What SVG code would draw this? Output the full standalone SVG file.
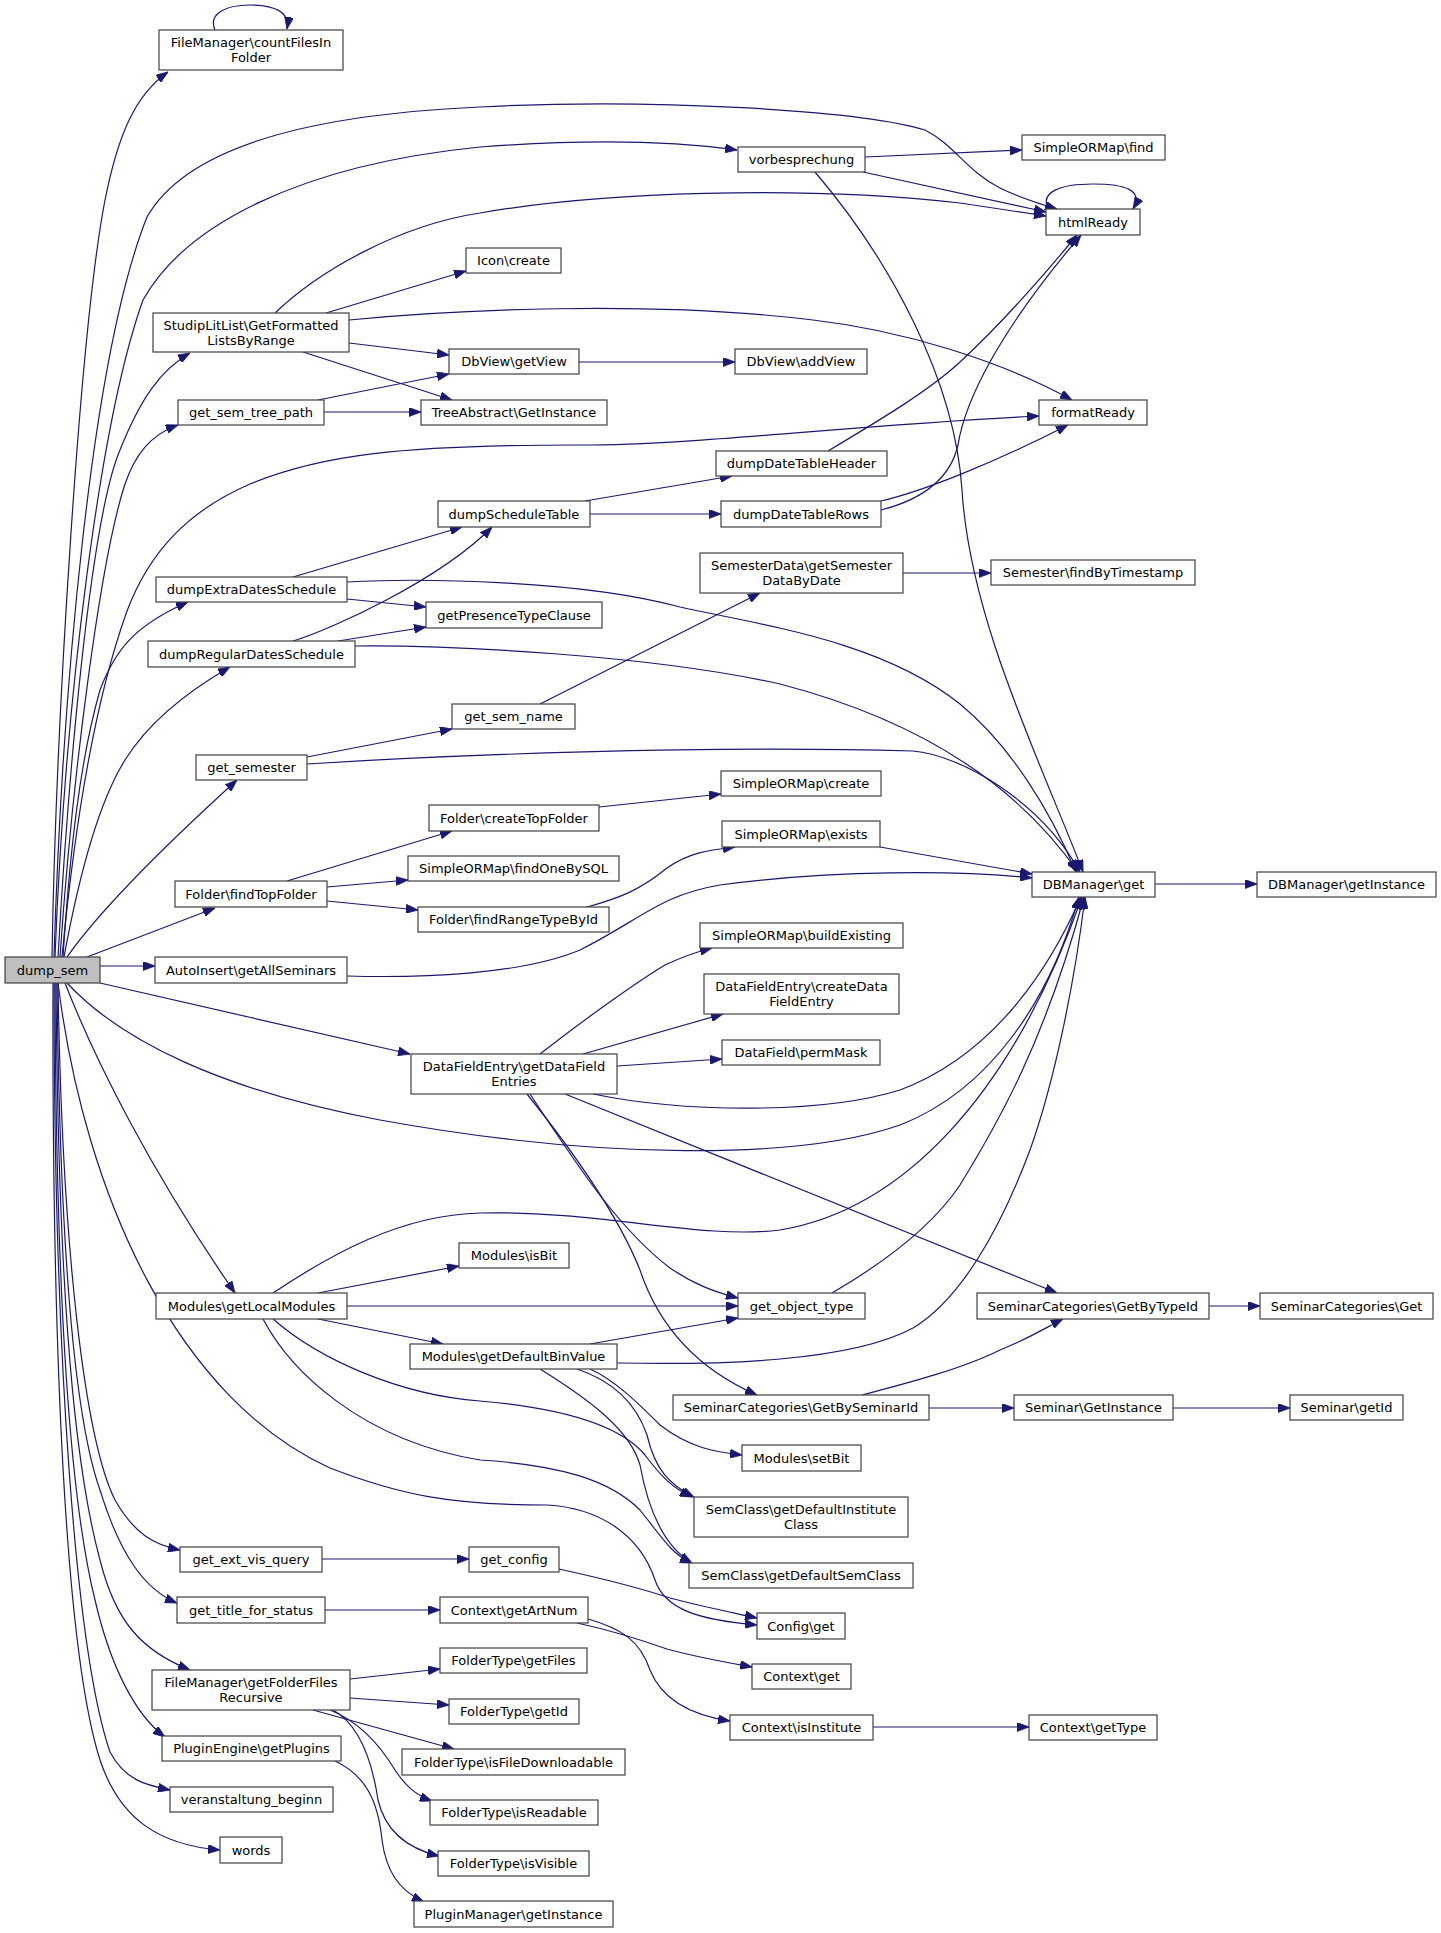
<svg xmlns="http://www.w3.org/2000/svg" width="1441" height="1933" viewBox="0 0 1441 1933">
<defs>
<marker id="a" markerWidth="12" markerHeight="9" refX="12" refY="4.5" orient="auto" markerUnits="userSpaceOnUse"><path d="M0,0 L12,4.5 L0,9 z" fill="#191970" stroke="#191970" stroke-width="0.8"/></marker>
<style>
.n rect{fill:#fff;stroke:#404040;stroke-width:1.2}
.n.root rect{fill:#bfbfbf}
text{font-family:"DejaVu Sans","Liberation Sans",sans-serif;font-size:13px;text-anchor:middle;fill:#000}
.e path{fill:none;stroke:#191970;stroke-width:1.2;marker-end:url(#a)}
</style>
</defs>
<rect width="1441" height="1933" fill="#fff"/>
<g id="edges" class="e">
<path d="M215,30 C208,14 225,5 250,5 C275,5 290,12 287,29"/>
<path d="M1048,209 C1040,192 1060,184 1093,184 C1125,184 1144,190 1133,209"/>
<path d="M52,957 C56,720 80,330 105,200 C118,135 135,95 168,72"/>
<path d="M54,957 C62,700 90,360 147,217 C185,150 300,115 480,107 C650,98 860,110 925,130 C955,145 965,170 1000,188 C1020,198 1040,204 1057,209"/>
<path d="M55,957 C65,700 100,420 143,300 C185,225 300,165 480,147 C600,138 680,142 737,150"/>
<path d="M58,957 C68,780 90,520 120,450 C140,400 160,370 190,353"/>
<path d="M60,957 C72,780 100,560 125,484 C135,455 150,435 178,425"/>
<path d="M62,957 C75,820 95,700 127,611 C150,550 190,510 250,484 C320,455 400,445 580,445 C700,445 850,425 1039,416"/>
<path d="M63,957 C70,850 80,760 100,690 C115,650 135,625 188,602"/>
<path d="M64,957 C80,870 100,800 125,760 C150,720 190,690 230,667"/>
<path d="M67,957 C100,910 160,850 237,780"/>
<path d="M87,957 L215,908"/>
<path d="M100,966 L155,966"/>
<path d="M100,983 L410,1054"/>
<path d="M67,983 C120,1040 220,1090 380,1120 C600,1160 800,1160 900,1125 C990,1090 1050,1000 1079,897"/>
<path d="M65,983 C95,1060 150,1170 235,1293"/>
<path d="M58,983 C85,1200 180,1400 330,1468 C400,1495 450,1505 547,1505 C600,1508 640,1535 655,1580 C665,1610 700,1620 757,1625"/>
<path d="M58,983 C62,1250 85,1440 115,1500 C135,1535 155,1545 180,1550"/>
<path d="M57,983 C60,1250 75,1420 100,1490 C120,1555 145,1590 177,1603"/>
<path d="M56,983 C58,1250 70,1450 100,1560 C115,1620 140,1650 190,1670"/>
<path d="M55,983 C56,1300 70,1500 95,1600 C110,1665 135,1715 165,1737"/>
<path d="M54,983 C54,1350 75,1650 110,1752 C125,1780 145,1785 170,1790"/>
<path d="M53,983 C52,1350 65,1650 100,1760 C120,1820 160,1845 220,1850"/>
<path d="M865,157 L1022,150"/>
<path d="M863,172 L1046,212"/>
<path d="M815,172 C890,260 955,380 962,490 C970,620 1040,760 1083,872"/>
<path d="M275,313 C320,270 400,225 480,213 C600,192 800,185 960,203 L1046,216"/>
<path d="M326,313 L466,271"/>
<path d="M349,320 C450,310 650,300 813,320 C900,330 1000,360 1072,400"/>
<path d="M349,343 L449,355"/>
<path d="M303,352 L452,400"/>
<path d="M318,400 L449,374"/>
<path d="M324,412 L421,412"/>
<path d="M579,362 L735,362"/>
<path d="M585,501 L732,476"/>
<path d="M590,514 L721,514"/>
<path d="M828,451 C880,420 930,390 960,362 C1000,325 1040,280 1077,235"/>
<path d="M881,510 C920,500 950,480 958,445 C965,400 1000,330 1081,235"/>
<path d="M881,501 C920,492 990,465 1068,425"/>
<path d="M903,573 L991,573"/>
<path d="M293,577 L462,527"/>
<path d="M347,599 L426,607"/>
<path d="M347,582 C420,578 580,580 680,607 C760,625 880,640 960,704 C1010,745 1050,810 1076,872"/>
<path d="M293,641 C330,630 440,580 492,527"/>
<path d="M338,641 L426,627"/>
<path d="M355,646 C450,645 650,655 780,684 C880,710 1000,760 1078,872"/>
<path d="M540,704 L760,593"/>
<path d="M307,757 L452,729"/>
<path d="M307,764 C450,755 700,745 913,751 C960,755 1040,800 1080,872"/>
<path d="M599,807 L721,794"/>
<path d="M287,881 L452,831"/>
<path d="M327,887 L408,880"/>
<path d="M327,901 L418,910"/>
<path d="M587,907 C620,898 640,890 667,868 C690,852 710,850 735,847"/>
<path d="M880,847 L1032,874"/>
<path d="M1155,884 L1257,884"/>
<path d="M347,976 C420,978 520,975 580,950 C640,920 660,895 720,885 C830,870 960,870 1032,878"/>
<path d="M540,1054 C590,1015 640,980 665,965 C680,958 700,951 712,948"/>
<path d="M583,1054 L723,1014"/>
<path d="M617,1066 L722,1059"/>
<path d="M593,1094 C680,1112 820,1115 900,1090 C980,1060 1040,990 1081,897"/>
<path d="M565,1094 L1057,1293"/>
<path d="M530,1094 C580,1170 620,1230 670,1268 C695,1285 715,1292 738,1298"/>
<path d="M527,1094 C580,1160 620,1220 640,1270 C660,1330 700,1370 757,1395"/>
<path d="M273,1293 C330,1255 400,1215 480,1213 C600,1210 700,1240 780,1230 C900,1210 1010,1100 1082,897"/>
<path d="M318,1293 L459,1266"/>
<path d="M347,1306 L738,1306"/>
<path d="M318,1319 L443,1344"/>
<path d="M273,1319 C320,1360 400,1395 480,1401 C560,1408 620,1425 645,1455 C660,1475 672,1488 692,1497"/>
<path d="M263,1319 C290,1370 360,1440 480,1460 C560,1465 610,1480 640,1510 C660,1535 672,1555 692,1563"/>
<path d="M832,1293 C880,1265 930,1230 960,1185 C1000,1120 1045,1040 1084,897"/>
<path d="M1209,1306 L1260,1306"/>
<path d="M590,1344 L738,1318"/>
<path d="M617,1363 C720,1365 850,1362 913,1328 C960,1300 1000,1230 1030,1150 C1055,1080 1075,980 1085,897"/>
<path d="M590,1369 C615,1380 640,1405 660,1425 C690,1448 715,1452 742,1455"/>
<path d="M577,1369 C610,1380 635,1400 647,1435 C655,1470 670,1485 694,1497"/>
<path d="M540,1369 C590,1400 630,1430 640,1465 C650,1520 670,1550 692,1563"/>
<path d="M862,1395 C900,1385 960,1370 1000,1350 C1030,1338 1045,1328 1063,1319"/>
<path d="M929,1408 L1014,1408"/>
<path d="M1173,1408 L1290,1408"/>
<path d="M322,1559 L469,1559"/>
<path d="M559,1569 C600,1578 640,1588 670,1598 C700,1606 730,1612 757,1618"/>
<path d="M325,1610 L440,1610"/>
<path d="M577,1623 C600,1628 630,1636 667,1649 C700,1658 730,1663 752,1667"/>
<path d="M588,1619 C620,1628 640,1640 650,1670 C662,1700 690,1715 730,1721"/>
<path d="M873,1727 L1029,1727"/>
<path d="M350,1679 L440,1669"/>
<path d="M350,1698 L449,1705"/>
<path d="M313,1710 L454,1749"/>
<path d="M330,1710 C360,1722 380,1745 395,1770 C405,1785 415,1795 432,1801"/>
<path d="M333,1710 C360,1725 372,1760 378,1800 C385,1830 405,1848 439,1856"/>
<path d="M335,1761 C365,1775 378,1800 382,1840 C386,1870 398,1890 424,1902"/>
</g>
<g id="n0" class="n root"><rect x="5" y="957" width="95" height="26"/><text x="52.5" y="974.5">dump_sem</text></g>
<g id="n1" class="n"><rect x="159" y="30" width="184" height="40"/><text x="251" y="46.5">FileManager\countFilesIn</text><text x="251" y="61.5">Folder</text></g>
<g id="n2" class="n"><rect x="1046" y="209" width="94" height="26"/><text x="1093" y="226.5">htmlReady</text></g>
<g id="n3" class="n"><rect x="738" y="147" width="127" height="25"/><text x="801.5" y="164">vorbesprechung</text></g>
<g id="n4" class="n"><rect x="1022" y="135" width="143" height="25"/><text x="1093.5" y="152">SimpleORMap\find</text></g>
<g id="n5" class="n"><rect x="153" y="313" width="196" height="39"/><text x="251" y="329.5">StudipLitList\GetFormatted</text><text x="251" y="344.5">ListsByRange</text></g>
<g id="n6" class="n"><rect x="466" y="248" width="95" height="25"/><text x="513.5" y="265">Icon\create</text></g>
<g id="n7" class="n"><rect x="449" y="349" width="130" height="25"/><text x="514" y="366">DbView\getView</text></g>
<g id="n8" class="n"><rect x="735" y="349" width="132" height="25"/><text x="801" y="366">DbView\addView</text></g>
<g id="n9" class="n"><rect x="421" y="400" width="186" height="25"/><text x="514" y="417">TreeAbstract\GetInstance</text></g>
<g id="n10" class="n"><rect x="178" y="400" width="146" height="25"/><text x="251" y="417">get_sem_tree_path</text></g>
<g id="n11" class="n"><rect x="1039" y="400" width="108" height="25"/><text x="1093" y="417">formatReady</text></g>
<g id="n12" class="n"><rect x="716" y="451" width="171" height="25"/><text x="801.5" y="468">dumpDateTableHeader</text></g>
<g id="n13" class="n"><rect x="438" y="501" width="152" height="26"/><text x="514" y="518.5">dumpScheduleTable</text></g>
<g id="n14" class="n"><rect x="721" y="501" width="160" height="26"/><text x="801" y="518.5">dumpDateTableRows</text></g>
<g id="n15" class="n"><rect x="700" y="553" width="203" height="40"/><text x="801.5" y="569.5">SemesterData\getSemester</text><text x="801.5" y="584.5">DataByDate</text></g>
<g id="n16" class="n"><rect x="991" y="560" width="204" height="25"/><text x="1093" y="577">Semester\findByTimestamp</text></g>
<g id="n17" class="n"><rect x="156" y="577" width="191" height="25"/><text x="251.5" y="594">dumpExtraDatesSchedule</text></g>
<g id="n18" class="n"><rect x="426" y="602" width="176" height="26"/><text x="514" y="619.5">getPresenceTypeClause</text></g>
<g id="n19" class="n"><rect x="148" y="641" width="207" height="26"/><text x="251.5" y="658.5">dumpRegularDatesSchedule</text></g>
<g id="n20" class="n"><rect x="452" y="704" width="123" height="25"/><text x="513.5" y="721">get_sem_name</text></g>
<g id="n21" class="n"><rect x="196" y="755" width="111" height="25"/><text x="251.5" y="772">get_semester</text></g>
<g id="n22" class="n"><rect x="721" y="771" width="160" height="25"/><text x="801" y="788">SimpleORMap\create</text></g>
<g id="n23" class="n"><rect x="429" y="805" width="170" height="26"/><text x="514" y="822.5">Folder\createTopFolder</text></g>
<g id="n24" class="n"><rect x="722" y="821" width="158" height="26"/><text x="801" y="838.5">SimpleORMap\exists</text></g>
<g id="n25" class="n"><rect x="408" y="856" width="211" height="25"/><text x="513.5" y="873">SimpleORMap\findOneBySQL</text></g>
<g id="n26" class="n"><rect x="1032" y="872" width="123" height="25"/><text x="1093.5" y="889">DBManager\get</text></g>
<g id="n27" class="n"><rect x="1257" y="872" width="179" height="25"/><text x="1346.5" y="889">DBManager\getInstance</text></g>
<g id="n28" class="n"><rect x="175" y="881" width="152" height="26"/><text x="251" y="898.5">Folder\findTopFolder</text></g>
<g id="n29" class="n"><rect x="418" y="907" width="191" height="25"/><text x="513.5" y="924">Folder\findRangeTypeById</text></g>
<g id="n30" class="n"><rect x="700" y="923" width="203" height="25"/><text x="801.5" y="940">SimpleORMap\buildExisting</text></g>
<g id="n31" class="n"><rect x="155" y="957" width="192" height="26"/><text x="251" y="974.5">AutoInsert\getAllSeminars</text></g>
<g id="n32" class="n"><rect x="704" y="974" width="195" height="40"/><text x="801.5" y="990.5">DataFieldEntry\createData</text><text x="801.5" y="1005.5">FieldEntry</text></g>
<g id="n33" class="n"><rect x="722" y="1040" width="158" height="25"/><text x="801" y="1057">DataField\permMask</text></g>
<g id="n34" class="n"><rect x="411" y="1054" width="206" height="40"/><text x="514" y="1070.5">DataFieldEntry\getDataField</text><text x="514" y="1085.5">Entries</text></g>
<g id="n35" class="n"><rect x="459" y="1243" width="110" height="25"/><text x="514" y="1260">Modules\isBit</text></g>
<g id="n36" class="n"><rect x="156" y="1293" width="191" height="26"/><text x="251.5" y="1310.5">Modules\getLocalModules</text></g>
<g id="n37" class="n"><rect x="738" y="1293" width="127" height="26"/><text x="801.5" y="1310.5">get_object_type</text></g>
<g id="n38" class="n"><rect x="977" y="1293" width="232" height="26"/><text x="1093" y="1310.5">SeminarCategories\GetByTypeId</text></g>
<g id="n39" class="n"><rect x="1260" y="1293" width="173" height="26"/><text x="1346.5" y="1310.5">SeminarCategories\Get</text></g>
<g id="n40" class="n"><rect x="410" y="1344" width="207" height="25"/><text x="513.5" y="1361">Modules\getDefaultBinValue</text></g>
<g id="n41" class="n"><rect x="673" y="1395" width="256" height="25"/><text x="801" y="1412">SeminarCategories\GetBySeminarId</text></g>
<g id="n42" class="n"><rect x="1014" y="1395" width="159" height="25"/><text x="1093.5" y="1412">Seminar\GetInstance</text></g>
<g id="n43" class="n"><rect x="1290" y="1395" width="113" height="25"/><text x="1346.5" y="1412">Seminar\getId</text></g>
<g id="n44" class="n"><rect x="742" y="1445" width="119" height="26"/><text x="801.5" y="1462.5">Modules\setBit</text></g>
<g id="n45" class="n"><rect x="694" y="1497" width="214" height="40"/><text x="801" y="1513.5">SemClass\getDefaultInstitute</text><text x="801" y="1528.5">Class</text></g>
<g id="n46" class="n"><rect x="180" y="1547" width="142" height="25"/><text x="251" y="1564">get_ext_vis_query</text></g>
<g id="n47" class="n"><rect x="469" y="1547" width="90" height="25"/><text x="514" y="1564">get_config</text></g>
<g id="n48" class="n"><rect x="689" y="1563" width="224" height="25"/><text x="801" y="1580">SemClass\getDefaultSemClass</text></g>
<g id="n49" class="n"><rect x="177" y="1597" width="148" height="26"/><text x="251" y="1614.5">get_title_for_status</text></g>
<g id="n50" class="n"><rect x="440" y="1597" width="148" height="26"/><text x="514" y="1614.5">Context\getArtNum</text></g>
<g id="n51" class="n"><rect x="757" y="1613" width="88" height="26"/><text x="801" y="1630.5">Config\get</text></g>
<g id="n52" class="n"><rect x="440" y="1648" width="147" height="25"/><text x="513.5" y="1665">FolderType\getFiles</text></g>
<g id="n53" class="n"><rect x="752" y="1664" width="99" height="25"/><text x="801.5" y="1681">Context\get</text></g>
<g id="n54" class="n"><rect x="152" y="1670" width="198" height="40"/><text x="251" y="1686.5">FileManager\getFolderFiles</text><text x="251" y="1701.5">Recursive</text></g>
<g id="n55" class="n"><rect x="449" y="1699" width="130" height="25"/><text x="514" y="1716">FolderType\getId</text></g>
<g id="n56" class="n"><rect x="730" y="1715" width="143" height="25"/><text x="801.5" y="1732">Context\isInstitute</text></g>
<g id="n57" class="n"><rect x="1029" y="1715" width="128" height="25"/><text x="1093" y="1732">Context\getType</text></g>
<g id="n58" class="n"><rect x="162" y="1736" width="179" height="25"/><text x="251.5" y="1753">PluginEngine\getPlugins</text></g>
<g id="n59" class="n"><rect x="402" y="1749" width="223" height="26"/><text x="513.5" y="1766.5">FolderType\isFileDownloadable</text></g>
<g id="n60" class="n"><rect x="170" y="1787" width="163" height="25"/><text x="251.5" y="1804">veranstaltung_beginn</text></g>
<g id="n61" class="n"><rect x="430" y="1800" width="168" height="25"/><text x="514" y="1817">FolderType\isReadable</text></g>
<g id="n62" class="n"><rect x="220" y="1837" width="62" height="26"/><text x="251" y="1854.5">words</text></g>
<g id="n63" class="n"><rect x="438" y="1851" width="151" height="25"/><text x="513.5" y="1868">FolderType\isVisible</text></g>
<g id="n64" class="n"><rect x="414" y="1901" width="199" height="26"/><text x="513.5" y="1918.5">PluginManager\getInstance</text></g>
</svg>
